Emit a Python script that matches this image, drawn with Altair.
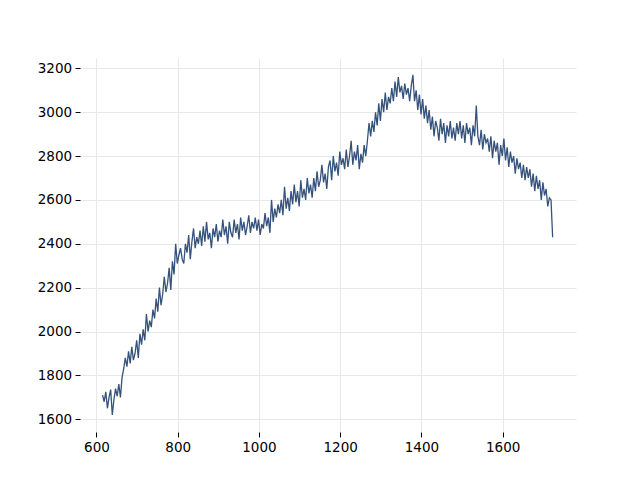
import altair as alt
import pandas as pd

x_start = 615
x_step = 4

values = [
    1710, 1680, 1725, 1650, 1700, 1735, 1620, 1690, 1740, 1705,
    1760, 1700, 1790, 1830, 1880, 1840, 1910, 1855, 1930, 1870,
    1900, 1960, 1880, 1990, 1940, 2010, 1960, 2080, 2000, 2050,
    2020, 2100, 2060, 2150, 2090, 2200, 2120, 2170, 2250, 2180,
    2220, 2290, 2190, 2320, 2260, 2400, 2310, 2350, 2380, 2330,
    2310, 2400, 2360, 2440, 2330, 2410, 2470, 2380, 2430, 2400,
    2460, 2390, 2480, 2410, 2500, 2420, 2450, 2380, 2470, 2430,
    2490, 2410, 2460, 2430, 2510, 2440, 2480, 2400, 2500, 2450,
    2430, 2510, 2450, 2490, 2420, 2520, 2460, 2500, 2440, 2480,
    2530, 2450, 2500, 2470, 2520, 2460, 2510, 2440, 2490, 2470,
    2540, 2480, 2520, 2450, 2600, 2500, 2560, 2520, 2580, 2540,
    2600, 2530, 2660, 2560, 2610, 2550, 2640, 2580, 2670, 2590,
    2640, 2570, 2690, 2610, 2650, 2600, 2700, 2630, 2670, 2610,
    2700, 2640, 2730, 2660, 2690, 2760, 2680, 2720, 2650, 2750,
    2780, 2690, 2800, 2730, 2770, 2710, 2820, 2760, 2790, 2740,
    2830, 2750, 2800, 2870, 2760, 2820, 2780, 2850, 2740, 2810,
    2770, 2850, 2800, 2870, 2950, 2890, 2960, 2910, 3000, 2940,
    3040, 2960, 3060, 3000, 3090, 3010, 3070, 3040, 3110, 3050,
    3140, 3070, 3160, 3090, 3120, 3060, 3130, 3080, 3110, 3050,
    3120, 3170, 3050, 3100, 3010, 3080, 2990, 3060, 2970, 3030,
    2950, 3010, 2920, 2980, 2890, 2960, 2930, 2870, 2970, 2900,
    2950, 2860, 2940, 2890, 2960, 2880, 2930, 2870, 2950, 2900,
    2960, 2880, 2940, 2860, 2950, 2900, 2930, 2850, 2940, 2890,
    3030, 2890, 2850, 2920, 2830, 2900, 2860, 2880, 2820, 2890,
    2790, 2870, 2820, 2860, 2760, 2850, 2800, 2880, 2780, 2840,
    2750, 2820, 2770, 2800, 2720, 2790, 2740, 2770, 2700, 2760,
    2690, 2750, 2700, 2740, 2660, 2720, 2640, 2710, 2650, 2690,
    2600, 2680, 2620, 2650, 2570, 2610, 2600, 2430,
]

x_ticks = [600, 800, 1000, 1200, 1400, 1600]
y_ticks = [1600, 1800, 2000, 2200, 2400, 2600, 2800, 3000, 3200]

df = pd.DataFrame({
    "x": [x_start + i * x_step for i in range(len(values))],
    "y": values,
})

axis_common = dict(
    domain=False,
    grid=True,
    gridColor="#e8e8e8",
    gridWidth=1.1,
    tickColor="black",
    tickSize=4.9,
    tickWidth=1,
    labelColor="black",
    labelFont="DejaVu Sans",
    labelFontSize=13.5,
    labelPadding=3.5,
    title=None,
)

chart = (
    alt.Chart(df)
    .mark_line(color="#34527a", strokeWidth=1.3)
    .encode(
        x=alt.X(
            "x:Q",
            scale=alt.Scale(domain=[559.5, 1780.5], nice=False, zero=False),
            axis=alt.Axis(values=x_ticks, format="d", **axis_common),
        ),
        y=alt.Y(
            "y:Q",
            scale=alt.Scale(domain=[1542, 3247], nice=False, zero=False),
            axis=alt.Axis(values=y_ticks, format="d", **axis_common),
        ),
    )
    .properties(
        width=496,
        height=374,
        background="white",
        autosize=alt.AutoSizeParams(type="none"),
        padding={"left": 72, "top": 50, "right": 56, "bottom": 40},
    )
    .configure_view(stroke=None, strokeOpacity=0, strokeWidth=0)
)

chart.save("out.html", embed_options={"renderer": "svg", "actions": False})
